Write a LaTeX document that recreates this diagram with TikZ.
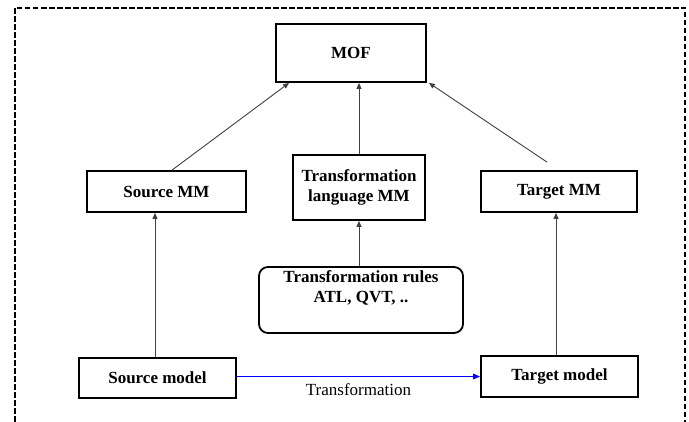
\documentclass[tikz,border=0pt]{standalone}
\usepackage{fontspec}
\setmainfont{Liberation Serif}
\usetikzlibrary{arrows.meta}

\tikzset{
  box/.style={draw=black, line width=1.8pt, fill=white, inner sep=2pt,
              font=\fontsize{17}{20}\selectfont\bfseries, align=center},
  rulebox/.style={box, rounded corners=9pt},
  link/.style={draw=black!75, line width=0.9pt,
               -{Triangle[length=6pt,width=5pt]}},
  translink/.style={draw=blue, line width=1.4pt,
               -{Triangle[length=7pt,width=5.5pt]}},
  frame/.style={draw=black, line width=1.3pt, dash pattern=on 5.5pt off 2.5pt}
}

\begin{document}
\begin{tikzpicture}[x=1pt,y=-1pt]
  \useasboundingbox (0,0) rectangle (689,422);

  % outer dashed frame, open at the bottom
  \draw[frame] (15,422) -- (15,8) -- (685,8) -- (685,422);

  % metamodel levels
  \node[box, minimum width=150pt, minimum height=58pt] (mof)   at (351,53)    {MOF};
  \node[box, minimum width=159pt, minimum height=41pt] (srcMM) at (166.5,191.5) {Source MM};
  \node[box, minimum width=132pt, minimum height=65pt] (tlMM)  at (359,187.5) {Transformation\\language MM};
  \node[box, minimum width=156pt, minimum height=41pt] (tgtMM) at (559,191.5) {Target MM};

  % transformation rules
  \node[rulebox, minimum width=204pt, minimum height=66pt] (rules) at (361,300)
       {Transformation rules\\ATL, QVT, ..\\[0pt]\strut};

  % models
  \node[box, minimum width=157pt, minimum height=40pt] (srcModel) at (157.5,378)   {Source model};
  \node[box, minimum width=157pt, minimum height=41pt] (tgtModel) at (559.5,376.5) {Target model};

  % conformance links
  \draw[link] ([xshift=5.5pt]srcMM.north) -- ([xshift=14pt]mof.south west);
  \draw[link] (tlMM.north) -- (tlMM.north |- mof.south);
  \draw[link] ([xshift=-12pt,yshift=8pt]tgtMM.north) -- ([xshift=2pt]mof.south east);
  \draw[link] (rules.north -| tlMM.south) -- (tlMM.south);
  \draw[link] ([xshift=-2.5pt]srcModel.north) -- ([xshift=-2.5pt]srcModel.north |- srcMM.south);
  \draw[link] ([xshift=-3.5pt]tgtModel.north) -- ([xshift=-3.5pt]tgtModel.north |- tgtMM.south);

  % model transformation
  \draw[translink] (srcModel.east |- tgtModel.west) -- (tgtModel.west)
       node[midway, below=3pt, text=black, font=\fontsize{17}{19}\selectfont] (transLabel) {Transformation};
\end{tikzpicture}
\end{document}
